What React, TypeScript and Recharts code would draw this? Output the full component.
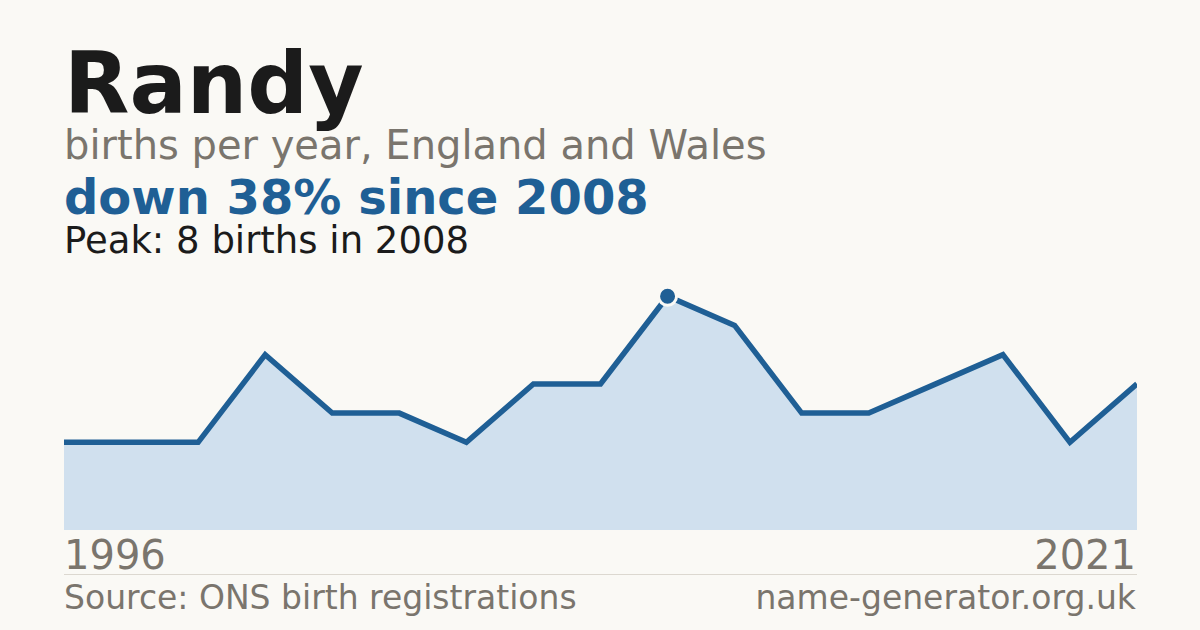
// Name-trend card: births per year for one name, area chart with peak marker.

import { Area, AreaChart, XAxis, YAxis } from "recharts";

const YEARS = [
  "1996", "1997", "1998", "2000", "2001", "2002", "2004", "2005", "2007",
  "2008", "2009", "2011", "2012", "2014", "2016", "2019", "2021",
];
const BIRTHS = [3, 3, 3, 6, 4, 4, 3, 5, 5, 8, 7, 4, 4, 5, 6, 3, 5];
const PEAK_YEAR = "2008";

const BG = "#faf9f5";
const INK = "#1b1b1b";
const MUTED = "#7a756d";
const BLUE = "#1f5f95";
const FILL = "#d0e0ee";
const RULE = "#dcd8d0";
const FONT = "'DejaVu Sans', sans-serif";

const data = YEARS.map((year, i) => ({ year, births: BIRTHS[i] }));

function PeakDot(props: any) {
  const { cx, cy, payload, index } = props;
  if (!payload || payload.year !== PEAK_YEAR) return <g key={`d-${index}`} />;
  return (
    <circle
      key={`d-${index}`}
      cx={cx}
      cy={cy}
      r={9}
      fill={BLUE}
      stroke={BG}
      strokeWidth={3}
    />
  );
}

export default function App() {
  return (
    <div
      style={{
        position: "fixed",
        left: 0,
        top: 0,
        width: 1200,
        height: 630,
        background: BG,
        overflow: "hidden",
      }}
    >
      <svg
        width={1200}
        height={630}
        style={{ position: "absolute", left: 0, top: 0 }}
        fontFamily={FONT}
      >
        <text x={64} y={113} fontSize={85} fontWeight="bold" fill={INK}>
          Randy
        </text>
        <text x={64} y={159} fontSize={40} fill={MUTED}>
          births per year, England and Wales
        </text>
        <text x={64} y={214} fontSize={48} fontWeight="bold" fill={BLUE}>
          down 38% since 2008
        </text>
        <text x={64} y={253} fontSize={37} fill={INK}>
          Peak: 8 births in 2008
        </text>
        <text x={64} y={569} fontSize={40} fill={MUTED}>
          {YEARS[0]}
        </text>
        <text x={1136} y={569} fontSize={40} fill={MUTED} textAnchor="end">
          {YEARS[YEARS.length - 1]}
        </text>
        <line x1={64} x2={1137} y1={574.5} y2={574.5} stroke={RULE} strokeWidth={1} />
        <text x={64} y={609} fontSize={33} fill={MUTED}>
          Source: ONS birth registrations
        </text>
        <text x={1136} y={609} fontSize={33} fill={MUTED} textAnchor="end">
          name-generator.org.uk
        </text>
      </svg>
      <div style={{ position: "absolute", left: 64, top: 267 }}>
        <AreaChart
          width={1073}
          height={263}
          data={data}
          margin={{ top: 0, right: 0, bottom: 0, left: 0 }}
          style={{ overflow: "visible" }}
        >
          <XAxis dataKey="year" hide />
          <YAxis hide domain={[0, 9]} />
          <Area
            type="linear"
            dataKey="births"
            stroke={BLUE}
            strokeWidth={5.5}
            fill={FILL}
            fillOpacity={1}
            dot={PeakDot}
            activeDot={false}
            isAnimationActive={false}
          />
        </AreaChart>
      </div>
    </div>
  );
}
